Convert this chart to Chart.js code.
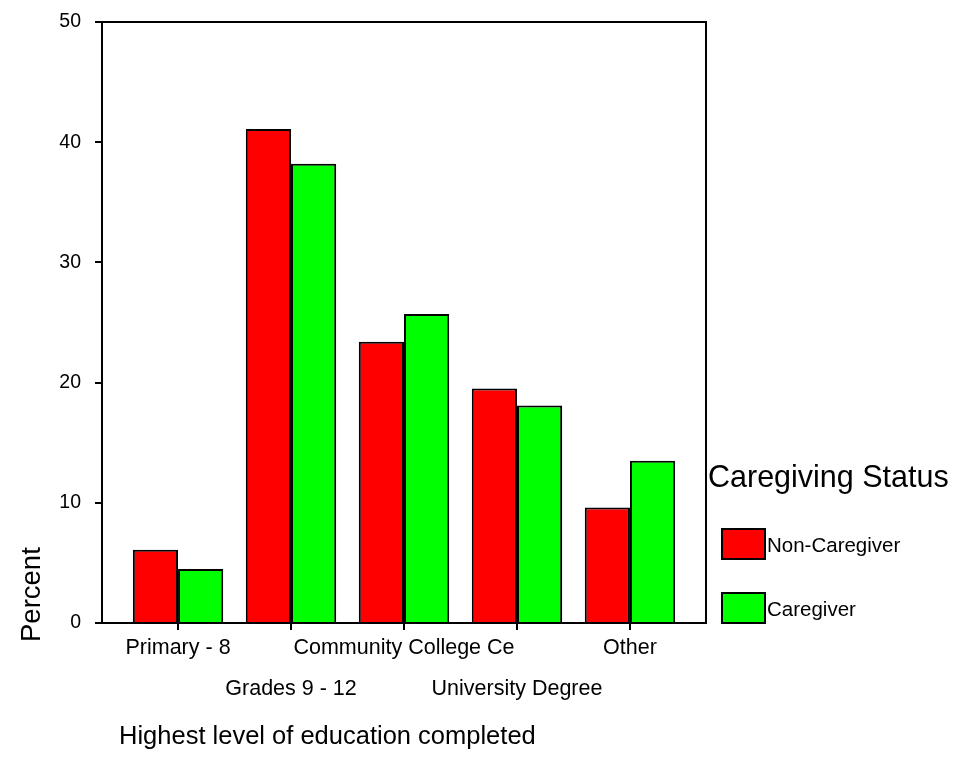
<!DOCTYPE html>
<html>
<head>
<meta charset="utf-8">
<script src="https://cdn.jsdelivr.net/npm/chart.js@4"></script>
<style>
	body { margin: 0; background: #fff; }
	#wrap { width: 957px; height: 776px; }
</style>
</head>
<body>
<div id="wrap"><canvas id="educationChart" width="957" height="776"></canvas></div>
<script>
const CATEGORIES = ['Primary - 8', 'Grades 9 - 12', 'Community College Ce', 'University Degree', 'Other'];
const NON_CAREGIVER = [6.1, 41.1, 23.4, 19.5, 9.6];
const CAREGIVER = [4.5, 38.2, 25.7, 18.1, 13.5];
const Y_TICKS = [0, 10, 20, 30, 40, 50];
const SERIES_NAMES = ['Non-Caregiver', 'Caregiver'];
const LEGEND_TITLE = 'Caregiving Status';
const X_TITLE = 'Highest level of education completed';
const Y_TITLE = 'Percent';

const FONT = '"Liberation Sans", Arial, sans-serif';

// frame round the plot, axis titles and the legend block on the right
const extrasPlugin = {
	id: 'extras',
	afterDraw(chart) {
		const ctx = chart.ctx;
		const a = chart.chartArea;
		ctx.save();
		ctx.strokeStyle = '#000';
		ctx.lineWidth = 2;
		ctx.strokeRect(a.left, a.top, a.right - a.left, a.bottom - a.top);

		ctx.fillStyle = '#000';
		ctx.textBaseline = 'middle';
		ctx.textAlign = 'left';
		ctx.font = '25.5px ' + FONT;
		ctx.fillText(X_TITLE, 119, 737);

		ctx.save();
		ctx.font = '27.5px ' + FONT;
		ctx.translate(32, 642);
		ctx.rotate(-Math.PI / 2);
		ctx.fillText(Y_TITLE, 0, 0);
		ctx.restore();

		ctx.font = '30.5px ' + FONT;
		ctx.fillText(LEGEND_TITLE, a.right + 2, 479);

		ctx.font = '20.5px ' + FONT;
		chart.data.datasets.forEach(function (ds, i) {
			const top = 529 + i * 64;
			ctx.fillStyle = ds.backgroundColor;
			ctx.fillRect(a.right + 16, top, 43, 30);
			ctx.strokeStyle = '#000';
			ctx.lineWidth = 2;
			ctx.strokeRect(a.right + 16, top, 43, 30);
			ctx.fillStyle = '#000';
			ctx.fillText(ds.label, a.right + 61, top + 17);
		});
		ctx.restore();
	}
};

const ctx = document.getElementById('educationChart').getContext('2d');
new Chart(ctx, {
	type: 'bar',
	data: {
		datasets: [
			{
				label: SERIES_NAMES[0],
				data: NON_CAREGIVER.map((v, i) => ({ x: i, y: v })),
				backgroundColor: '#ff0000',
				borderColor: '#000',
				borderWidth: 2,
			},
			{
				label: SERIES_NAMES[1],
				data: CAREGIVER.map((v, i) => ({ x: i, y: v })),
				backgroundColor: '#00ff00',
				borderColor: '#000',
				borderWidth: 2,
			},
		],
	},
	options: {
		responsive: false,
		animation: false,
		categoryPercentage: 0.8,
		barPercentage: 1.0,
		layout: {
			padding: { left: 0, right: 251, top: 22, bottom: 0 },
		},
		plugins: {
			legend: { display: false },
			tooltip: { enabled: false },
		},
		scales: {
			x: {
				type: 'linear',
				offset: false,
				min: -0.673,
				max: 4.673,
				afterBuildTicks: function (scale) {
					scale.ticks = CATEGORIES.map((c, i) => ({ value: i }));
				},
				afterFit: function (scale) {
					scale.height = 153;
					scale.paddingLeft = 0;
					scale.paddingRight = 0;
				},
				grid: {
					offset: false,
					drawOnChartArea: false,
					drawTicks: true,
					tickLength: 7,
					color: '#000',
					lineWidth: 2,
				},
				border: { display: true, color: '#000', width: 2 },
				ticks: {
					autoSkip: false,
					maxRotation: 0,
					color: '#000',
					padding: -2,
					font: { family: FONT, size: 21.5, lineHeight: '41px' },
					callback: function (value) {
						const label = CATEGORIES[value];
						return value % 2 === 0 ? [label] : ['', label];
					},
				},
			},
			y: {
				min: 0,
				max: 50,
				afterBuildTicks: function (scale) {
					scale.ticks = Y_TICKS.map((v) => ({ value: v }));
				},
				afterFit: function (scale) {
					scale.width = 102;
					scale.paddingTop = 0;
					scale.paddingBottom = 0;
				},
				grid: {
					drawOnChartArea: false,
					drawTicks: true,
					tickLength: 7,
					color: '#000',
					lineWidth: 2,
				},
				border: { display: true, color: '#000', width: 2 },
				ticks: {
					color: '#000',
					padding: 14,
					font: { family: FONT, size: 19.5 },
				},
			},
		},
	},
	plugins: [extrasPlugin],
});
</script>
</body>
</html>
